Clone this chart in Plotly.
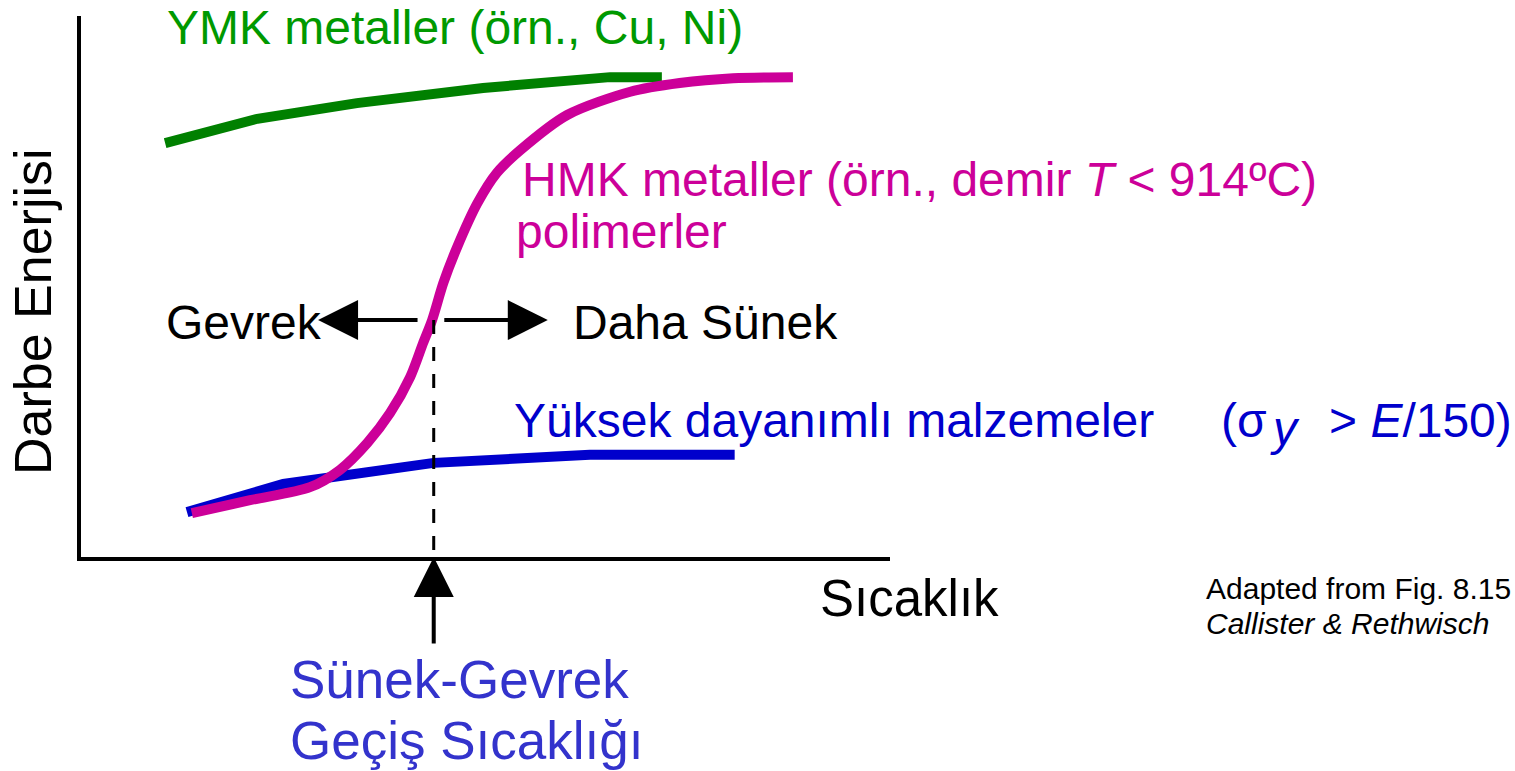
import plotly.graph_objects as go

# ---------------- data (arbitrary units: temperature 0-100, impact energy 0-100) -------------
# FCC metals (YMK metaller)
fcc_T = [10.4, 21.8, 34.1, 49.7, 65.4, 71.8]
fcc_E = [76.5, 81.0, 83.9, 86.7, 88.7, 88.7]

# High strength materials (Yüksek dayanımlı malzemeler)
hs_T = [13.1, 25.0, 43.6, 62.9, 80.8]
hs_E = [8.3, 13.5, 17.4, 18.9, 18.9]

# BCC metals / polymers (HMK metaller, polimerler)
bcc_T = [13.7, 20.9, 28.3, 32.0, 35.4, 38.2, 40.7, 42.3, 43.4, 44.8, 46.5, 49.0,
         51.4, 54.3, 60.1, 67.9, 74.0, 80.6, 88.0]
bcc_E = [8.1, 10.5, 12.9, 16.1, 21.1, 26.6, 33.3, 39.6, 43.8, 50.7, 57.3, 65.4,
         71.0, 75.2, 81.7, 86.0, 87.6, 88.5, 88.7]

# Ductile-brittle transition
dbtt_T = [43.6, 43.6]
dbtt_E = [43.8, 0.0]
arrow_left_T = 29.3
arrow_right_T = 57.7

# ---------------- layout geometry ----------------
W, H = 1515, 771
ML, MR, MT, MB = 81, 625, 16, 214
PW, PH = W - ML - MR, H - MT - MB


def P(px, py):
    """pixel position -> paper coordinates (for text placement only)"""
    return (px - ML) / PW, (H - MB - py) / PH


FONT = "Liberation Sans, Arial, sans-serif"
GREEN_L, GREEN_T = "#008000", "#009900"
MAG = "#CC0099"
BLUE = "#0000CC"
PURP = "#3333CC"

fig = go.Figure()
fig.add_trace(go.Scatter(x=fcc_T, y=fcc_E, mode="lines",
                         line=dict(color=GREEN_L, width=10)))
fig.add_trace(go.Scatter(x=hs_T, y=hs_E, mode="lines",
                         line=dict(color=BLUE, width=10)))
fig.add_trace(go.Scatter(x=bcc_T, y=bcc_E, mode="lines",
                         line=dict(color=MAG, width=10, shape="spline", smoothing=0.8)))
fig.add_trace(go.Scatter(x=dbtt_T, y=dbtt_E, mode="lines",
                         line=dict(color="black", width=3, dash="14px,13px")))

ann = []


def txt(text, px, py, size=48, color="black", xanchor="left", angle=0):
    x, y = P(px, py)
    ann.append(dict(text=text, x=x, y=y, xref="paper", yref="paper",
                    xanchor=xanchor, yanchor="middle", showarrow=False,
                    textangle=angle, font=dict(family=FONT, size=size, color=color)))


txt("YMK metaller (örn., Cu, Ni)", 165, 27, color=GREEN_T)
txt("HMK metaller (örn., demir <i>T</i> < 914ºC)", 520, 180, color=MAG)
txt("polimerler", 514, 232, color=MAG)
txt("Gevrek", 164, 322)
txt("Daha Sünek", 571, 322)
txt("Yüksek dayanımlı malzemeler", 512, 420, color=BLUE)
txt("(σ", 1219, 420, color=BLUE)
txt("<i>y</i>", 1268, 428, color=BLUE)
txt("> <i>E</i>/150)", 1327, 420, color=BLUE)
txt("Sıcaklık", 818, 598, size=51)
txt("Adapted from Fig. 8.15", 1204, 588, size=30)
txt("<i>Callister & Rethwisch</i>", 1204, 623, size=30)
txt("Sünek-Gevrek", 288, 679, size=53, color=PURP)
txt("Geçiş Sıcaklığı", 288, 741, size=53, color=PURP)
txt("Darbe Enerjisi", 33, 312, size=52, xanchor="center", angle=-90)

arrow_common = dict(text="", showarrow=True, arrowhead=2, arrowsize=2.0,
                    arrowwidth=4, arrowcolor="black", standoff=0, startstandoff=0,
                    xref="x", yref="y")
ann.append(dict(x=arrow_left_T, y=dbtt_E[0], ax=101, ay=0, **arrow_common))
ann.append(dict(x=arrow_right_T, y=dbtt_E[0], ax=-105, ay=0, **arrow_common))
ann.append(dict(x=dbtt_T[1], y=dbtt_E[1], ax=0, ay=88, **arrow_common))

axis_common = dict(showline=True, linewidth=4, linecolor="black", showgrid=False,
                   zeroline=False, showticklabels=False, ticks="", fixedrange=True)

fig.update_layout(
    width=W, height=H,
    margin=dict(l=ML, r=MR, t=MT, b=MB, pad=0),
    paper_bgcolor="white", plot_bgcolor="white",
    showlegend=False,
    xaxis=dict(range=[0, 100], **axis_common),
    yaxis=dict(range=[0, 100], **axis_common),
    annotations=ann,
)

fig.write_html("out.html", config=dict(displayModeBar=False),
               post_script="document.body.style.margin='0px';")
